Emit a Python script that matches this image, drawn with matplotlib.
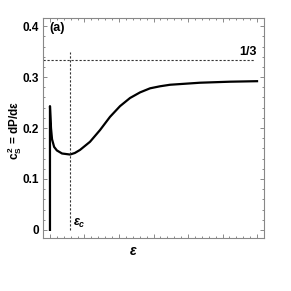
import matplotlib
matplotlib.use("Agg")
import matplotlib.pyplot as plt
from matplotlib.ticker import MultipleLocator

eps = [0.0, 0.0, 0.03, 0.06, 0.12, 0.2, 0.35, 0.58, 0.72, 0.87, 1.16, 1.45,
       1.74, 2.03, 2.32, 2.61, 2.9, 3.19, 3.48, 4.35, 5.22, 6.0]
cs2 = [0.0, 0.243, 0.2, 0.178, 0.163, 0.156, 0.15, 0.148, 0.151, 0.157, 0.173, 0.196,
       0.222, 0.243, 0.259, 0.27, 0.278, 0.282, 0.285, 0.289, 0.291, 0.292]
EPS_C = 0.58
CONFORMAL = 1 / 3
Y_TICKS = [0, 0.1, 0.2, 0.3, 0.4]
Y_LABELS = ["0", "0.1", "0.2", "0.3", "0.4"]

plt.rcParams["font.family"] = ["Liberation Sans", "DejaVu Sans"]
plt.rcParams["mathtext.fontset"] = "custom"
plt.rcParams["mathtext.rm"] = "Liberation Sans"
plt.rcParams["mathtext.it"] = "Liberation Sans:italic:bold"
plt.rcParams["mathtext.bf"] = "Liberation Sans:bold"

fig = plt.figure(figsize=(2.91, 2.91), dpi=100)
ax = fig.add_axes([0.148, 0.182, 0.759, 0.756])

ax.plot(eps, cs2, color="black", lw=1.6, solid_joinstyle="round")
ax.plot([-0.2, 5.95], [CONFORMAL, CONFORMAL], color="#333333", lw=0.8,
        dashes=(2, 1.6))
ax.plot([EPS_C, EPS_C], [0, 0.349], color="#333333", lw=0.8, dashes=(2, 1.6))

ax.set_xlim(-0.2, 6.2)
ax.set_ylim(-0.016, 0.416)
ax.xaxis.set_major_locator(MultipleLocator(1))
ax.xaxis.set_minor_locator(MultipleLocator(0.2))
ax.set_yticks(Y_TICKS)
ax.set_yticklabels(Y_LABELS, fontweight="bold", fontsize=8.5)
ax.yaxis.set_minor_locator(MultipleLocator(0.02))
ax.set_xticklabels([])
ax.tick_params(which="both", direction="in", top=True, right=True,
               color="#777777", width=0.6)
ax.tick_params(which="major", length=3)
ax.tick_params(which="minor", length=1.5)
ax.tick_params(axis="y", pad=3)
for s in ax.spines.values():
    s.set_color("#888888")
    s.set_linewidth(0.8)

fig.text(0.05, 0.553, r"$\mathbf{c_S^{\,2}}$ = dP/d$\mathbf{\varepsilon}$",
         rotation=90, fontweight="bold", fontsize=8.5, ha="center", va="center")
fig.text(0.457, 0.137, r"$\varepsilon$", fontsize=10, ha="center",
         va="center")
ax.text(0.03, 0.955, "(a)", transform=ax.transAxes, fontweight="bold",
        fontsize=9, ha="left", va="center")
ax.text(5.98, 0.349, "1/3", fontweight="bold", fontsize=9, ha="right",
        va="center")
ax.text(EPS_C + 0.1, 0.012, r"$\varepsilon_c$", fontsize=9, ha="left",
        va="center")

fig.savefig("out.png", dpi=100)
